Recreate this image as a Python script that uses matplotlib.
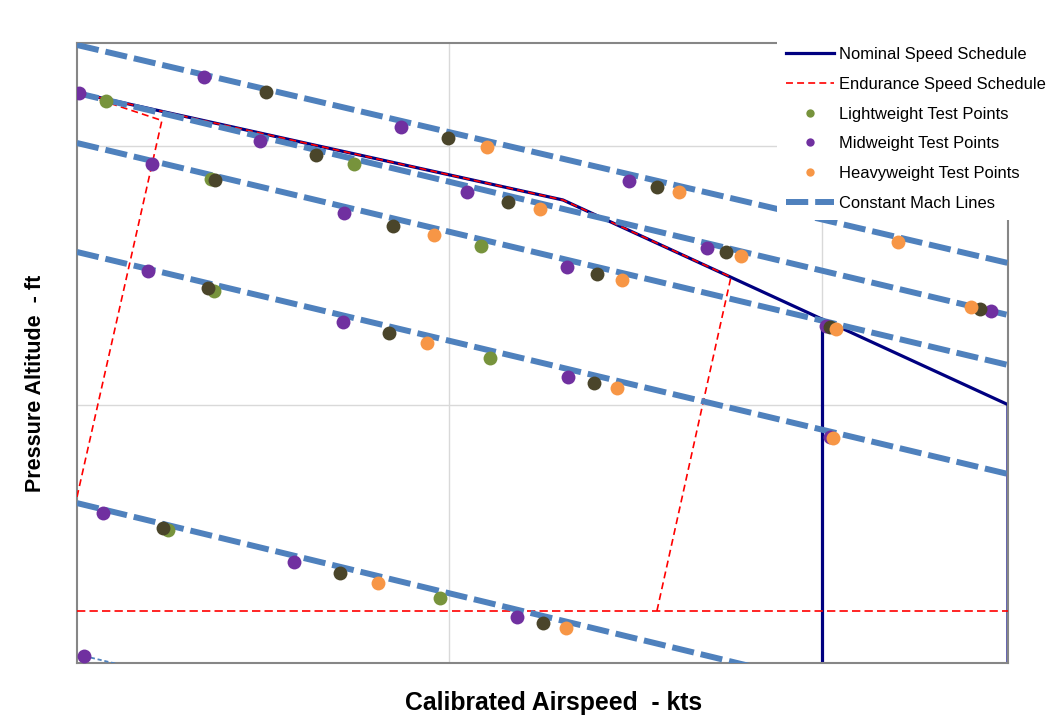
import numpy as np
import matplotlib
matplotlib.use('Agg')
import matplotlib.pyplot as plt

plt.rcParams['font.family'] = ['Liberation Sans', 'DejaVu Sans']
plt.rcParams['lines.scale_dashes'] = False

#------------------------------------------------------------------------------
#   Data (calibrated airspeed in kts, pressure altitude in ft)
#------------------------------------------------------------------------------
nominal_kts = [100.5, 230.5, 350.0, 350.0]
nominal_ft = [22065, 17923, 10000, 0]
nominal_drop_kts = [300.0, 300.0]
nominal_drop_ft = [13315, 0]

endurance_kts = [100.0, 122.8, 100.5, 230.5, 275.6, 255.7]
endurance_ft = [6430, 21000, 22065, 17923, 14940, 2000]
endurance_floor_kts = [100.0, 350.0]
endurance_floor_ft = [2000, 2000]

# constant mach lines, end points
mach_kts = [[100, 350], [100, 350], [100, 350], [100, 350], [100, 350]]
mach_ft = [[23923, 15484], [22065, 13471], [20129, 11536], [15910, 7316], [6190, -2540]]
mach_low_kts = [101.9, 112.0]
mach_low_ft = [271, -80]

light_kts = [107.8, 174.4, 136.0, 208.5, 136.8, 210.9, 124.4, 197.5]
light_ft = [21755, 19316, 18736, 16142, 14400, 11807, 5148, 2516]

mid_kts = [100.5, 134.1, 187.0, 248.2, 149.1, 204.7, 269.2, 120.1, 171.7, 231.6,
           301.1, 345.4, 119.1, 171.4, 231.8, 302.2, 107.0, 158.3, 218.2, 101.9]
mid_ft = [22065, 22684, 20749, 18658, 20207, 18232, 16065, 19316, 17420, 15329,
          13045, 13626, 15174, 13200, 11071, 8748, 5807, 3910, 1781, 271]

other_kts = [150.8, 199.6, 255.7, 164.2, 215.7, 274.3, 137.1, 184.9, 239.6, 302.2,
             342.5, 135.2, 183.8, 238.8, 123.1, 170.6, 225.1]
other_ft = [22103, 20323, 18426, 19665, 17845, 15910, 18697, 16916, 15058, 13007,
            13703, 14516, 12774, 10839, 5226, 3484, 1548]

heavy_kts = [210.1, 261.7, 320.5, 224.3, 278.3, 340.1, 195.9, 246.3, 303.8, 194.0,
             245.0, 303.0, 180.8, 231.3]
heavy_ft = [19974, 18232, 16297, 17574, 15755, 13781, 16568, 14826, 12929, 12387,
            10645, 8710, 3097, 1355]

#------------------------------------------------------------------------------
#   Plot
#------------------------------------------------------------------------------
fig = plt.figure(figsize=(10.48, 7.17), dpi=100)
ax = fig.add_axes([77/1048, 54/717, 931/1048, 620/717])

ax.set_xlim(100, 350)
ax.set_ylim(0, 24000)
ax.set_xticks([200, 300])
ax.set_yticks([10000, 20000])
ax.grid(True, color='#d9d9d9', lw=1)
ax.set_axisbelow(True)
ax.tick_params(length=0, labelbottom=False, labelleft=False)
for s in ax.spines.values():
    s.set_color('#868686')
    s.set_linewidth(1.5)

nom, = ax.plot(nominal_kts, nominal_ft, color='#000080', lw=2.3, zorder=2,
               label='Nominal Speed Schedule')
ax.plot(nominal_drop_kts, nominal_drop_ft, color='#000080', lw=2.3, zorder=2)

end, = ax.plot(endurance_kts, endurance_ft, color='#ff0000', lw=1.2, ls=(0, (5, 3)),
               zorder=3, label='Endurance Speed Schedule')
ax.plot(endurance_floor_kts, endurance_floor_ft, color='#ff0000', lw=1.2,
        ls=(0, (6, 3)), zorder=3)

mach = None
for xs, ys in zip(mach_kts, mach_ft):
    mach, = ax.plot(xs, ys, color='#4f81bd', lw=4.3, ls=(0, (16, 5)), zorder=4,
                    label='Constant Mach Lines')
ax.plot(mach_low_kts, mach_low_ft, color='#4f81bd', lw=1.3, ls=(0, (3, 2)), zorder=4)

ms = 10
lw_pts, = ax.plot(light_kts, light_ft, 'o', color='#77933c', ms=ms, mew=0, zorder=5,
                  label='Lightweight Test Points')
mw_pts, = ax.plot(mid_kts, mid_ft, 'o', color='#7030a0', ms=ms, mew=0, zorder=6,
                  label='Midweight Test Points')
ax.plot(other_kts, other_ft, 'o', color='#4a452a', ms=ms, mew=0, zorder=7)
hw_pts, = ax.plot(heavy_kts, heavy_ft, 'o', color='#f79646', ms=ms, mew=0, zorder=8,
                  label='Heavyweight Test Points')

leg = fig.legend(handles=[nom, end, lw_pts, mw_pts, hw_pts, mach],
                 loc='upper left', bbox_to_anchor=(777/1048, 1 - 38/717),
                 fontsize=11.9, frameon=True, facecolor='white', edgecolor='none',
                 framealpha=1, fancybox=False, handlelength=2.9, handletextpad=0.3,
                 labelspacing=0.89, markerscale=0.6, borderpad=0.55, borderaxespad=0)

fig.text(36/1048, 1 - 383/717, 'Pressure Altitude  - ft', rotation=90,
         ha='center', va='center', fontsize=15.5, fontweight='bold')
fig.text(554/1048, 1 - 703/717, 'Calibrated Airspeed  - kts',
         ha='center', va='center', fontsize=17.8, fontweight='bold')

fig.savefig('out.png', dpi=100)
